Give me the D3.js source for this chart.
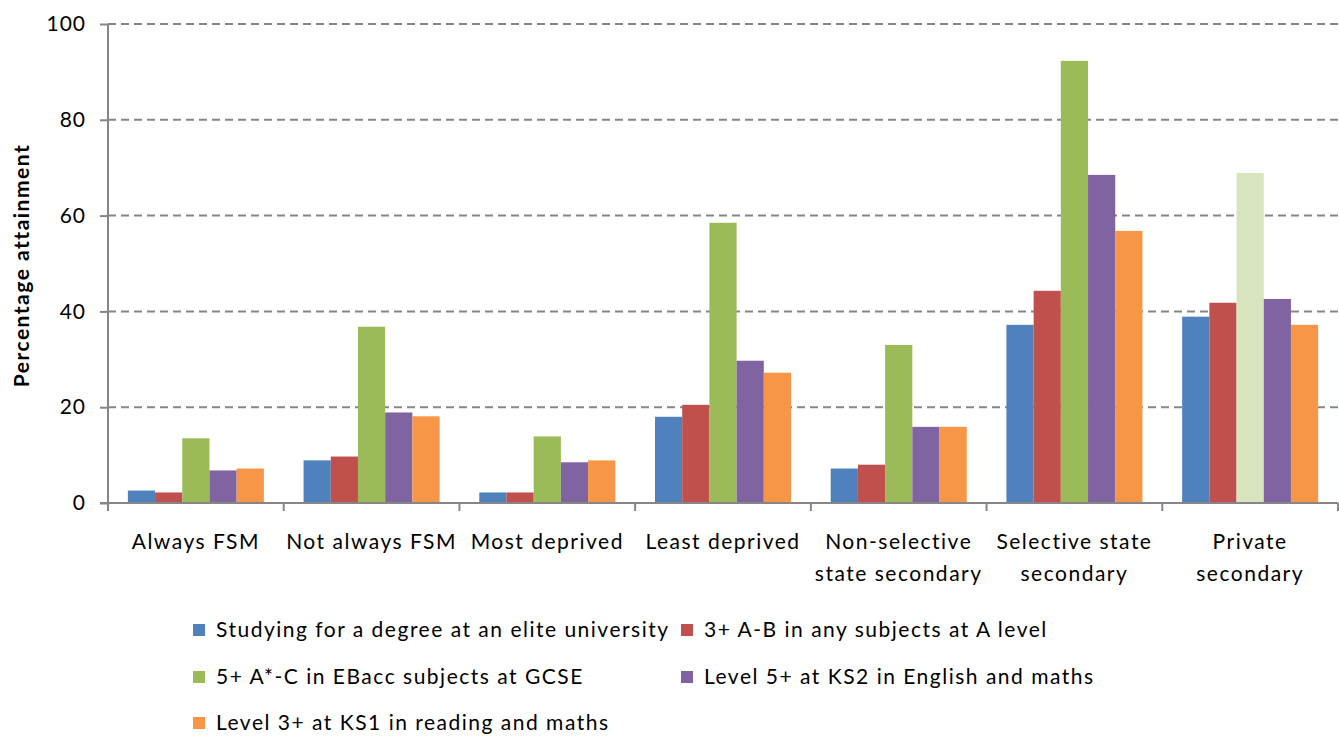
<!DOCTYPE html>
<html>
<head>
<meta charset="utf-8">
<script src="https://cdn.jsdelivr.net/npm/d3@7"></script>
<style>
  body { margin: 0; background: #fff; }
  svg text { font-family: Lato, "Open Sans", sans-serif; fill: #000; }
</style>
</head>
<body>
<svg width="1339" height="736"></svg>
<script>
// categories (two-line labels split by "|")
var categories = ["Always FSM", "Not always FSM", "Most deprived", "Least deprived",
  "Non-selective|state secondary", "Selective state|secondary", "Private|secondary"];

var seriesNames = [
  "Studying for a degree at an elite university",
  "3+ A-B in any subjects at A level",
  "5+ A*-C in EBacc subjects at GCSE",
  "Level 5+ at KS2 in English and maths",
  "Level 3+ at KS1 in reading and maths"
];
var seriesColors = ["#4F81BD", "#C0504D", "#9BBB59", "#8064A2", "#F79646"];

var elite   = [2.6, 8.9, 2.2, 18.0, 7.2, 37.2, 38.9];
var aLevel  = [2.2, 9.7, 2.2, 20.5, 8.0, 44.3, 41.8];
var ebacc   = [13.5, 36.8, 13.9, 58.5, 33.0, 92.3, 68.9];
var ks2     = [6.8, 18.9, 8.5, 29.7, 15.9, 68.5, 42.6];
var ks1     = [7.2, 18.1, 8.9, 27.2, 15.9, 56.8, 37.2];
var yTicks  = [0, 20, 40, 60, 80, 100];

var values = [elite, aLevel, ebacc, ks2, ks1];

var svg = d3.select("svg");
var mLeft = 108, mRight = 1338, mTop = 24, mBottom = 503;

var x = d3.scaleBand().domain(categories).range([mLeft, mRight]).paddingInner(0).paddingOuter(0);
var xs = d3.scaleBand().domain(d3.range(5)).range([0, x.bandwidth()]).paddingInner(0).paddingOuter(0.73);
var y = d3.scaleLinear().domain([0, 100]).range([mBottom, mTop]);

// gridlines
svg.append("g").selectAll("line")
  .data(yTicks.filter(function(d) { return d > 0; }))
  .enter().append("line")
    .attr("x1", mLeft).attr("x2", mRight)
    .attr("y1", function(d) { return y(d); })
    .attr("y2", function(d) { return y(d); })
    .style("stroke", "#868686")
    .style("stroke-width", 2)
    .style("stroke-dasharray", "8,5");

// bars
var rows = [];
categories.forEach(function(c, i) {
  values.forEach(function(s, j) {
    var col = seriesColors[j];
    if (j == 2 && i == 6) col = "#D7E4BD"; // highlighted private ebacc bar
    rows.push({cat: c, s: j, v: s[i], color: col});
  });
});
svg.append("g").selectAll("rect")
  .data(rows)
  .enter().append("rect")
    .attr("x", function(d) { return x(d.cat) + xs(d.s); })
    .attr("width", xs.bandwidth())
    .attr("y", function(d) { return y(d.v); })
    .attr("height", function(d) { return mBottom - y(d.v); })
    .style("fill", function(d) { return d.color; });

// y axis
var yAxis = svg.append("g")
  .attr("transform", "translate(" + mLeft + ",0)")
  .call(d3.axisLeft(y).tickValues(yTicks).tickSize(8).tickPadding(14));
yAxis.selectAll("text").style("font-size", "21px").style("letter-spacing", "1px");

// x axis
var xAxis = svg.append("g")
  .attr("transform", "translate(0," + mBottom + ")");
xAxis.append("line").attr("x1", mLeft - 8).attr("x2", mRight);
xAxis.selectAll(".tk")
  .data(d3.range(categories.length + 1))
  .enter().append("line")
    .attr("class", "tk")
    .attr("x1", function(i) { return mLeft + i * x.step(); })
    .attr("x2", function(i) { return mLeft + i * x.step(); })
    .attr("y1", 0).attr("y2", 8);
xAxis.selectAll(".lbl")
  .data(categories)
  .enter().append("text")
    .attr("class", "lbl")
    .attr("text-anchor", "middle")
    .style("font-size", "21px")
    .style("letter-spacing", "1.5px")
    .each(function(d) {
      var parts = d.split("|");
      var t = d3.select(this);
      parts.forEach(function(p, k) {
        t.append("tspan").attr("x", x(d) + x.bandwidth() / 2).attr("y", 46 + k * 32).text(p);
      });
    });

svg.selectAll(".domain, .tick line, g line:not([style])")
  .style("stroke", "#868686").style("stroke-width", 2);
yAxis.select(".domain").attr("d", "M0," + (mBottom + 8) + "V" + mTop);

// y title
svg.append("text")
  .attr("transform", "translate(29," + ((mTop + mBottom) / 2 + 2) + ") rotate(-90)")
  .attr("text-anchor", "middle")
  .style("font-size", "21px")
  .style("font-weight", "bold")
  .style("letter-spacing", "1.5px")
  .text("Percentage attainment");

// legend
var legendPos = [[193, 630], [681, 630], [193, 677], [681, 677], [193, 723]];
var legend = svg.append("g").selectAll("g")
  .data(seriesNames)
  .enter().append("g")
    .attr("transform", function(d, i) { return "translate(" + legendPos[i][0] + "," + legendPos[i][1] + ")"; });
legend.append("rect")
  .attr("x", 0).attr("y", -6).attr("width", 12).attr("height", 12)
  .style("fill", function(d, i) { return seriesColors[i]; });
legend.append("text")
  .attr("x", 23).attr("y", 7)
  .style("font-size", "21px")
  .style("letter-spacing", "1.5px")
  .text(function(d) { return d; });
</script>
</body>
</html>
